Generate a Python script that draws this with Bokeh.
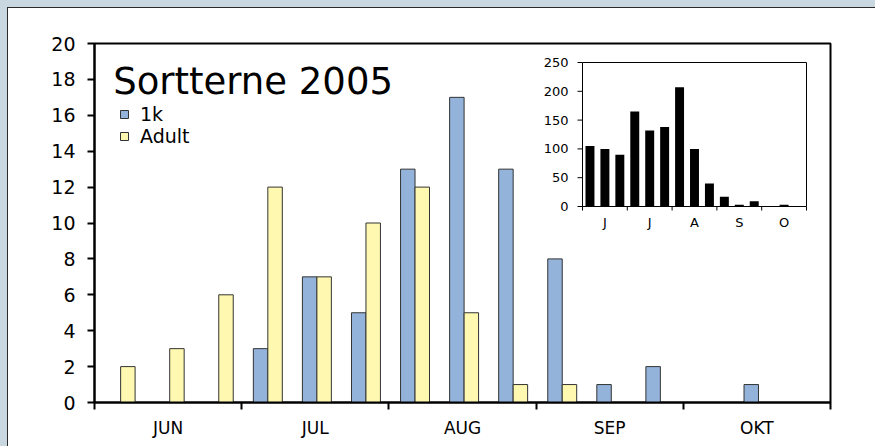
import math
from bokeh.plotting import figure
from bokeh.models import (FixedTicker, Legend, LegendItem, Label,
                          ColumnDataSource, Range1d)
from bokeh.core.properties import value
from bokeh.transform import dodge
from bokeh.embed import file_html
from bokeh.resources import INLINE

# ---- data -------------------------------------------------------------
periods = list(range(15))  # ten-day periods, June - October
months = ["JUN", "JUL", "AUG", "SEP", "OKT"]
inset_months = ["J", "J", "A", "S", "O"]
first_year = [0, 0, 0, 3, 7, 5, 13, 17, 13, 8, 1, 2, 0, 1, 0]   # 1k
adult = [2, 3, 6, 12, 7, 10, 12, 5, 1, 1, 0, 0, 0, 0, 0]
total = [105, 100, 90, 165, 132, 138, 207, 100, 40, 17, 3, 9, 0, 3, 0]
inset_yticks = [0, 50, 100, 150, 200, 250]
main_yticks = list(range(0, 21, 2))
title_text = "Sortterne 2005"

FONT = "DejaVu Sans"
BLUE = "#94b3db"
YELLOW = "#fff8b0"

n = len(periods)
src = ColumnDataSource(dict(x=[i + 0.5 for i in periods],
                            k1=first_year, adult=adult, total=total))

month_centers = [3 * i + 1.5 for i in range(len(months))]
month_edges = [3 * i for i in range(len(months) + 1)]

# ---- layout (pixels) --------------------------------------------------
W, H = 867, 438
BL, BR, BT, BB = 86, 45, 35, 44          # main frame borders
FW, FH = W - BL - BR, H - BT - BB        # main frame size
# inset frame inside the main frame (px from frame left / frame bottom)
IX0, IX1 = 488, 712
IY0, IY1 = 196, 340

# ---- main chart -------------------------------------------------------
p = figure(width=W, height=H, output_backend="svg", toolbar_location=None,
           x_range=(0, n), y_range=(0, 20),
           min_border_left=BL, min_border_right=BR,
           min_border_top=BT, min_border_bottom=BB)
p.styles = {"margin-left": "8px", "margin-top": "8px",
            "box-shadow": "0 0 0 1px #2b2b2b, 0 0 0 12px #c8d7e0"}
p.border_fill_color = "white"
p.background_fill_color = "white"
p.outline_line_color = "black"
p.outline_line_width = 2
p.xgrid.visible = False
p.ygrid.visible = False

r1 = p.vbar(x=dodge("x", -0.115, range=p.x_range), top="k1", width=0.295,
            source=src, fill_color=BLUE, line_color="#333333", line_width=1)
r2 = p.vbar(x=dodge("x", 0.18, range=p.x_range), top="adult", width=0.295,
            source=src, fill_color=YELLOW, line_color="#333333", line_width=1)

xa = p.xaxis[0]
xa.ticker = FixedTicker(ticks=month_centers, minor_ticks=month_edges)
xa.major_label_overrides = {c: m for c, m in zip(month_centers, months)}
xa.major_tick_out = 0
xa.major_tick_in = 0
xa.minor_tick_out = 7
xa.minor_tick_in = 0
xa.minor_tick_line_width = 2
xa.minor_tick_line_color = "black"
xa.axis_line_width = 2
xa.axis_line_color = "black"
xa.major_label_text_font = FONT
xa.major_label_text_font_size = "17px"
xa.major_label_text_color = "black"
xa.major_label_standoff = 8

ya = p.yaxis[0]
ya.ticker = FixedTicker(ticks=main_yticks)
ya.major_tick_out = 7
ya.major_tick_in = 0
ya.minor_tick_out = 0
ya.minor_tick_in = 0
ya.major_tick_line_width = 2
ya.major_tick_line_color = "black"
ya.axis_line_width = 2
ya.axis_line_color = "black"
ya.major_label_text_font = FONT
ya.major_label_text_font_size = "19px"
ya.major_label_text_color = "black"
ya.major_label_standoff = 12

p.add_layout(Label(x=0.38, y=17.9, text=title_text, text_font=FONT,
                   text_font_size="37px", text_color="black",
                   text_baseline="alphabetic"))

legend = Legend(items=[LegendItem(label="1k", renderers=[r1]),
                       LegendItem(label="Adult", renderers=[r2])],
                location=(25, 255), glyph_width=10, glyph_height=10,
                label_height=20, spacing=0, padding=0, margin=0,
                label_standoff=11, label_text_font=FONT,
                label_text_font_size="19px", label_text_color="black",
                border_line_alpha=0, background_fill_alpha=0)
p.add_layout(legend)

# ---- inset chart (own ranges inside the main frame) -------------------
ux = n / (IX1 - IX0)                        # inset x units per pixel
uy = inset_yticks[-1] / (IY1 - IY0)         # inset y units per pixel
p.extra_x_ranges = {"ix": Range1d(-IX0 * ux, n + (FW - IX1) * ux)}
p.extra_y_ranges = {"iy": Range1d(-IY0 * uy,
                                  inset_yticks[-1] + (FH - IY1) * uy)}
kw = dict(x_range_name="ix", y_range_name="iy")

p.vbar(x="x", top="total", width=0.6, source=src,
       fill_color="black", line_color="black", line_width=0, **kw)
# inset frame and axis lines
p.quad(left=[0], right=[n], bottom=[0], top=[inset_yticks[-1]],
       fill_color=None, line_color="black", line_width=1, **kw)
# y ticks and labels
p.ray(x=[0] * len(inset_yticks), y=inset_yticks, length=5,
      length_units="screen", angle=math.pi, line_color="black",
      line_width=1, **kw)
p.text(x=[0] * len(inset_yticks), y=inset_yticks,
       text=[str(v) for v in inset_yticks], x_offset=-14,
       text_align="right", text_baseline="middle", text_font=value(FONT),
       text_font_size=value("13px"), text_color="black", **kw)
# x ticks and labels
p.ray(x=month_edges, y=[0] * len(month_edges), length=4,
      length_units="screen", angle=-math.pi / 2, line_color="black",
      line_width=1, **kw)
p.text(x=month_centers, y=[0] * len(month_centers), text=inset_months,
       y_offset=8, text_align="center", text_baseline="top",
       text_font=value(FONT), text_font_size=value("13px"),
       text_color="black", **kw)

open("out.html", "w").write(file_html(p, INLINE))
